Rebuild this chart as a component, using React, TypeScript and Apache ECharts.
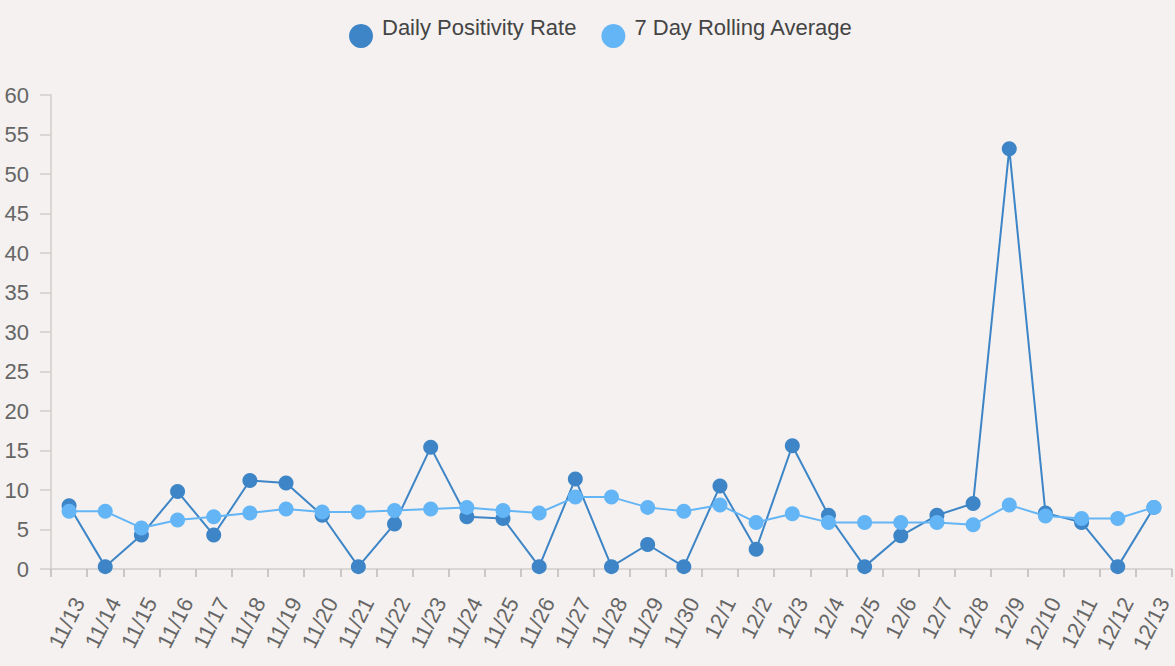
import React, { useEffect, useRef } from "react";
import * as echarts from "echarts";

const categories = [
  "11/13", "11/14", "11/15", "11/16", "11/17", "11/18", "11/19", "11/20", "11/21", "11/22",
  "11/23", "11/24", "11/25", "11/26", "11/27", "11/28", "11/29", "11/30", "12/1", "12/2",
  "12/3", "12/4", "12/5", "12/6", "12/7", "12/8", "12/9", "12/10", "12/11", "12/12", "12/13",
];

const dailyRate = [
  8.0, 0.3, 4.3, 9.8, 4.3, 11.2, 10.9, 6.8, 0.3, 5.7,
  15.4, 6.6, 6.4, 0.3, 11.4, 0.3, 3.1, 0.3, 10.5, 2.5,
  15.6, 6.8, 0.3, 4.2, 6.8, 8.3, 53.2, 7.1, 5.9, 0.3, 7.8,
];

const rollingAvg = [
  7.3, 7.3, 5.2, 6.2, 6.6, 7.1, 7.6, 7.2, 7.2, 7.4,
  7.6, 7.8, 7.4, 7.1, 9.1, 9.1, 7.8, 7.3, 8.1, 5.9,
  7.0, 5.9, 5.9, 5.9, 5.9, 5.6, 8.1, 6.7, 6.4, 6.4, 7.8,
];

const seriesNames = ["Daily Positivity Rate", "7 Day Rolling Average"];
const colors = ["#3d85c6", "#64b5f6"];
const FONT = "'Liberation Sans', Arial, sans-serif";

export default function App() {
  const ref = useRef<HTMLDivElement>(null);

  useEffect(() => {
    document.body.style.margin = "0";
    const chart = echarts.init(ref.current!, null, { renderer: "svg" });
    chart.setOption({
      animation: false,
      backgroundColor: "#f4f1f0",
      color: colors,
      textStyle: { fontFamily: FONT },
      legend: {
        top: 11,
        left: 344,
        icon: "circle",
        itemWidth: 24,
        itemHeight: 24,
        itemGap: 25,
        formatter: "{a|{name}}",
        textStyle: {
          fontSize: 22,
          color: "#444",
          fontFamily: FONT,
          rich: {
            a: {
              fontSize: 22,
              color: "#444",
              fontFamily: FONT,
              padding: [0, 0, 18, 4],
            },
          },
        },
        data: seriesNames,
      },
      grid: { left: 51, right: 3, top: 95, bottom: 97, containLabel: false },
      xAxis: {
        type: "category",
        data: categories,
        boundaryGap: true,
        axisLine: { lineStyle: { color: "#d0cccb", width: 1.5 } },
        axisTick: { show: true, length: 8, lineStyle: { color: "#bdb9b8", width: 1.5 } },
        axisLabel: {
          interval: 0,
          rotate: 63,
          margin: 25,
          fontSize: 22,
          color: "#666",
          fontFamily: FONT,
          verticalAlign: "top",
        },
        splitLine: { show: false },
      },
      yAxis: {
        type: "value",
        min: 0,
        max: 60,
        interval: 5,
        axisLine: { show: true, lineStyle: { color: "#d0cccb", width: 1.5 } },
        axisTick: { show: true, length: 11, lineStyle: { color: "#d0cccb", width: 1.5 } },
        axisLabel: { fontSize: 22, color: "#666", margin: 22, fontFamily: FONT },
        splitLine: { show: false },
      },
      series: [
        {
          name: seriesNames[0],
          type: "line",
          data: dailyRate,
          symbol: "circle",
          symbolSize: 15,
          lineStyle: { width: 2, color: colors[0] },
          itemStyle: { color: colors[0] },
          z: 2,
        },
        {
          name: seriesNames[1],
          type: "line",
          data: rollingAvg,
          symbol: "circle",
          symbolSize: 15,
          lineStyle: { width: 2, color: colors[1] },
          itemStyle: { color: colors[1] },
          z: 3,
        },
      ],
    });
    return () => chart.dispose();
  }, []);

  return <div ref={ref} style={{ width: 1175, height: 666 }} />;
}
